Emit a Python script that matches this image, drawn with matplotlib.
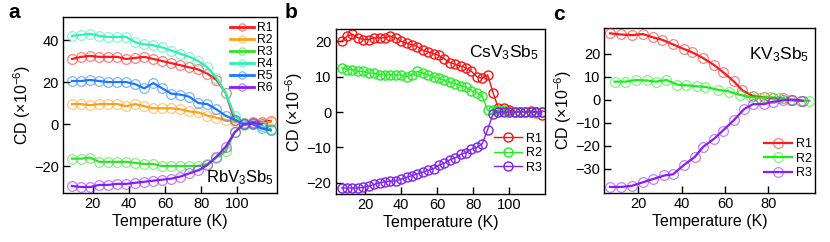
import matplotlib
matplotlib.use("Agg")
import matplotlib.pyplot as plt

plt.rcParams['font.family'] = ['Liberation Sans', 'DejaVu Sans']
plt.rcParams['mathtext.default'] = 'regular'

# ---------------- Panel a: RbV3Sb5 ----------------
T_a = [8.5, 13.5, 18.5, 23.5, 28.5, 33.5, 38.5, 43.5, 48.5, 53.5, 58.5, 63.5,
       68.5, 73.5, 78.5, 83.5, 88.5, 93.5, 98.5, 103.5, 108.5, 113.5, 118.5]
a_R1 = [31, 32, 32.5, 32, 32, 32, 31, 31.5, 32, 31, 30, 29, 28, 27, 26, 24,
        21, 15, 2, 0.5, 1, 1, 1.5]
a_R2 = [9.5, 9.5, 9, 9.5, 9.5, 9.5, 8.5, 9.5, 8.5, 7.5, 7.5, 7.5, 7, 6, 5.5,
        4, 3, 2, 1, 0.5, 0.5, 0.5, 1]
a_R3 = [-16.5, -16.5, -16, -18, -18, -18, -18, -18.5, -19, -19, -20, -20, -20,
        -20, -20, -19, -16, -13, -4, -0.5, 0, -1, -2.5]
a_R4 = [42, 42.5, 43, 42, 41.5, 41.5, 41.5, 39, 38, 37.5, 36.5, 35, 33.5, 32,
        30, 27, 22, 15, 4, 0.5, 0, -1, -3]
a_R5 = [20.5, 20.5, 21, 20.5, 20, 20, 20, 19, 17, 19.5, 17, 14.5, 14, 13, 10,
        9.5, 7, 4, 2, 0, 0, -2, -3]
a_R6 = [-29.5, -30, -30, -29, -29, -28.5, -28.5, -28, -27.5, -27, -26.5, -26,
        -25, -23.5, -22, -19.5, -15.5, -11, -4, 0, 0.5, 0]
a_series = [("R1", a_R1), ("R2", a_R2), ("R3", a_R3), ("R4", a_R4), ("R5", a_R5), ("R6", a_R6)]
a_colors = ["#ff1a1a", "#ffa01a", "#33e02a", "#2ff0b4", "#1a78ff", "#8a1aff"]

# ---------------- Panel b: CsV3Sb5 ----------------
T_b = [7, 10, 13, 16, 19, 22, 25, 28, 31, 34, 37, 40, 43, 46, 49, 52, 55, 58, 61,
       64, 67, 70, 73, 76, 79, 82, 85, 88, 91, 94, 97, 100, 103, 106, 109, 112, 115, 118]
b_R1 = [20, 21.5, 22, 21, 20.5, 20.5, 21, 21, 21, 21.5, 21, 20, 19.5, 19, 18.5,
        17.5, 17, 16.5, 16, 15, 14, 13.5, 13, 12.5, 11.5, 10, 9.5, 10.5, 5.5, 1,
        1, 0.5, 0, 0, 0, 0.3, 0, -0.8]
b_R2 = [12.5, 12, 12, 11.5, 11.5, 11, 11, 10.5, 10.5, 10.5, 10.5, 10.5, 10, 10.5,
        11.5, 11, 10.5, 10, 9.5, 9, 8.5, 8, 7.5, 7, 6, 5.5, 4.5, 0.5, 0.5, 0.5,
        0.5, 0, 0, 0, 0, 0, -0.3, 0]
b_R3 = [-21.5, -21.5, -21.5, -21.5, -21.3, -21, -20.5, -20, -19.8, -19.5, -19.5,
        -19, -18.5, -18, -17.5, -17, -16.5, -16, -15, -14.5, -13.5, -13, -12,
        -11.5, -10.5, -10, -9, -5, -0.5, 0, 0, 0, 0, 0, 0, 0, 0, 0]
b_series = [("R1", b_R1), ("R2", b_R2), ("R3", b_R3)]
b_colors = ["#ff1010", "#22ee22", "#7f22ee"]

# ---------------- Panel c: KV3Sb5 ----------------
T_c1 = [7, 12, 17, 22, 27, 31, 36, 41, 45, 50, 55, 59, 64, 68, 73, 78, 82, 87, 91, 95]
c_R1 = [28.8, 28.3, 28, 28.5, 27, 26, 24, 22, 20.5, 18, 15, 12, 8, 4, 1.5, 1,
        0.5, 0.5, -0.3, -0.5]
T_c2 = [9, 14, 19, 24, 28, 33, 38, 42, 47, 51, 57, 62, 67, 72, 76, 81, 85, 90, 95, 99]
c_R2 = [7.8, 7.8, 8.5, 8.3, 7.8, 8.5, 6.5, 6.2, 5.8, 5.5, 4.2, 3.5, 2, 1, 0.8,
        1, 0.8, -0.3, -0.5, -0.5]
T_c3 = [7, 12, 17, 22, 27, 32, 36, 41, 46, 50, 55, 59, 64, 69, 73, 78, 82, 87, 91, 96]
c_R3 = [-38, -38, -37.5, -36, -34.5, -33, -32.5, -28.5, -25, -20.5, -17, -13.5,
        -9, -4, -2, -2, -1, -0.3, 0, -0.5]
c_series = [("R1", T_c1, c_R1), ("R2", T_c2, c_R2), ("R3", T_c3, c_R3)]
c_colors = ["#ff1a1a", "#1aee1a", "#8a1aff"]

fig = plt.figure(figsize=(8.3, 2.42), dpi=100)

ax_a = fig.add_axes([0.0759, 0.2012, 0.2578, 0.7286])
ax_b = fig.add_axes([0.4045, 0.1983, 0.2525, 0.6806])
ax_c = fig.add_axes([0.7281, 0.2037, 0.2542, 0.6794])

def style(ax):
    ax.tick_params(direction='in', length=5, width=1, labelsize=10.5, pad=3)
    for s in ax.spines.values():
        s.set_linewidth(1.0)
    ax.set_xlabel("Temperature (K)", fontsize=11.5, labelpad=2)
    ax.set_ylabel("CD (×10$^{-6}$)", fontsize=11.5, labelpad=1)

# Panel a
for (lab, vals), col in zip(a_series, a_colors):
    T = T_a[:len(vals)]
    ax_a.plot(T, vals, '-', color=col, lw=1.6, zorder=3, label=lab,
              marker='o', ms=7, mfc='none',
              mec=matplotlib.colors.to_rgba(col, 0.55), mew=0.9)
ax_a.set_xlim(3.5, 122)
ax_a.set_ylim(-33, 51)
ax_a.set_xticks([20, 40, 60, 80, 100])
ax_a.set_yticks([-20, 0, 20, 40])
style(ax_a)
leg = ax_a.legend(loc='upper right', fontsize=8.8, frameon=False, labelspacing=0.0,
                  handlelength=2.0, handletextpad=0.2, borderaxespad=0.3,
                  borderpad=0.1, markerscale=0.75)
for h in leg.get_lines():
    h.set_linewidth(2.0)
ax_a.text(0.985, 0.09, "RbV$_3$Sb$_5$", transform=ax_a.transAxes, ha='right',
          va='center', fontsize=12)

# Panel b
for (lab, vals), col in zip(b_series, b_colors):
    ax_b.plot(T_b, vals, '-', color=col, lw=1.0, marker='o', ms=6.5,
              mfc='none', mec=col, mew=1.0, label=lab)
ax_b.set_xlim(3.7, 120)
ax_b.set_ylim(-23.2, 23.4)
ax_b.set_xticks([20, 40, 60, 80, 100])
ax_b.set_yticks([-20, -10, 0, 10, 20])
style(ax_b)
ax_b.legend(loc='lower right', bbox_to_anchor=(1.0, 0.1), fontsize=9,
            frameon=False, labelspacing=0.2, handlelength=2.2,
            handletextpad=0.3, borderaxespad=0.2, borderpad=0.1)
ax_b.text(0.97, 0.86, "CsV$_3$Sb$_5$", transform=ax_b.transAxes, ha='right',
          va='center', fontsize=12.5)

# Panel c
for (lab, T, vals), col in zip(c_series, c_colors):
    ax_c.plot(T, vals, '-', color=col, lw=1.6, zorder=3, label=lab,
              marker='o', ms=7, mfc='none',
              mec=matplotlib.colors.to_rgba(col, 0.55), mew=0.9)
ax_c.set_xlim(4.3, 101.7)
ax_c.set_ylim(-40.5, 31)
ax_c.set_xticks([20, 40, 60, 80])
ax_c.set_yticks([-30, -20, -10, 0, 10, 20])
style(ax_c)
ax_c.legend(loc='lower right', bbox_to_anchor=(1.0, 0.06), fontsize=9,
            frameon=False, labelspacing=0.2, handlelength=2.2,
            handletextpad=0.3, borderaxespad=0.2, borderpad=0.1)
ax_c.text(0.97, 0.84, "KV$_3$Sb$_5$", transform=ax_c.transAxes, ha='right',
          va='center', fontsize=12.5)

fig.text(8 / 830, 1 - 12 / 242, "a", fontsize=15, fontweight='bold', va='center')
fig.text(285 / 830, 1 - 12 / 242, "b", fontsize=15, fontweight='bold', va='center')
fig.text(553 / 830, 1 - 14 / 242, "c", fontsize=15, fontweight='bold', va='center')

fig.savefig("out.png", dpi=100)
